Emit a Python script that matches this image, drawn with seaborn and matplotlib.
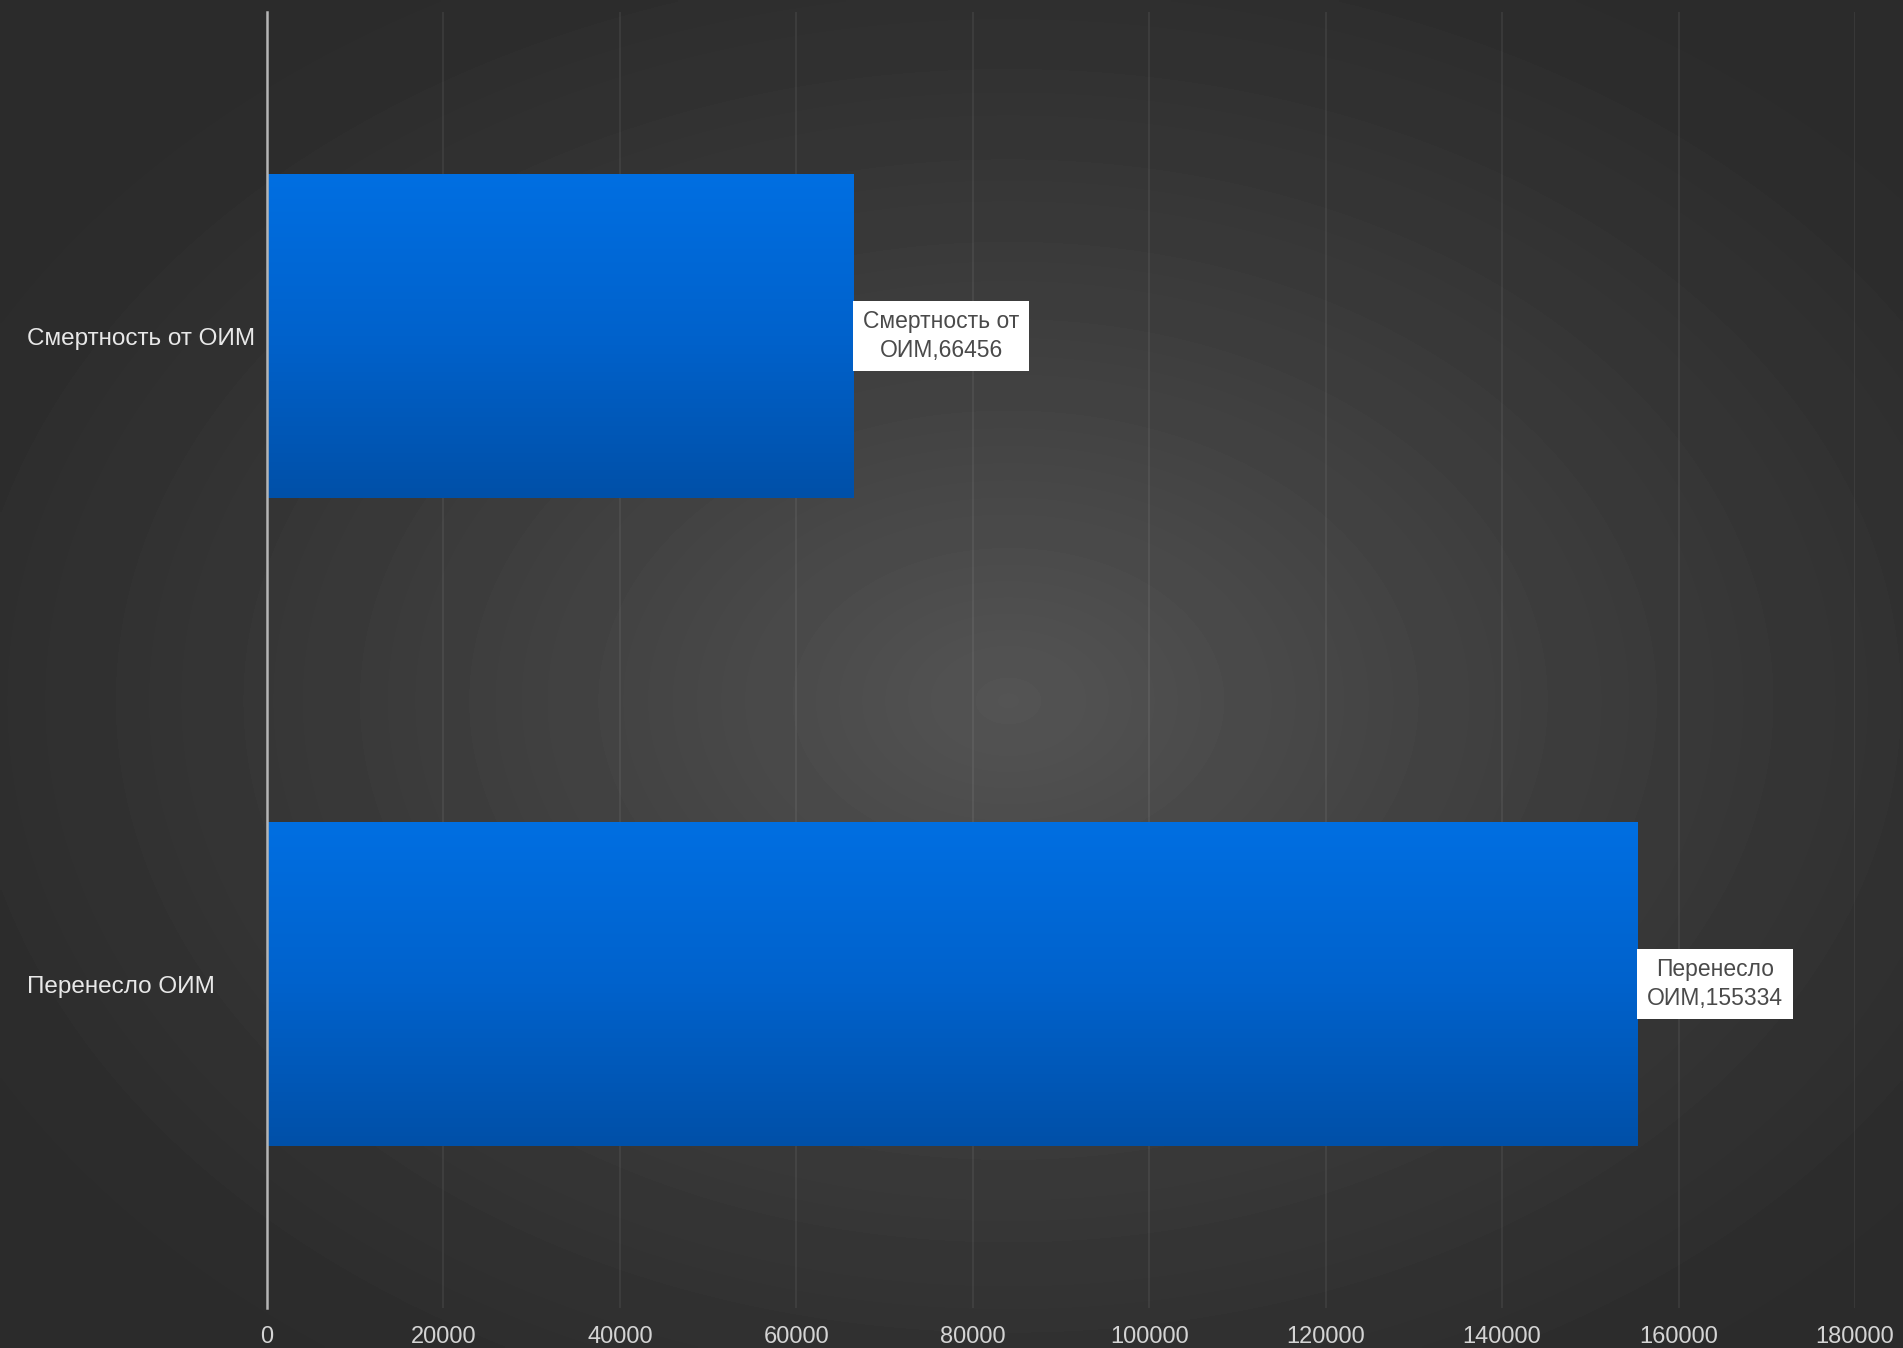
import textwrap
import numpy as np
import pandas as pd
import matplotlib
matplotlib.use("Agg")
import matplotlib.pyplot as plt
import seaborn as sns
from matplotlib.colors import LinearSegmentedColormap

# Data
categories = ["Смертность от ОИМ", "Перенесло ОИМ"]
values = [66456, 155334]
x_ticks = [0, 20000, 40000, 60000, 80000, 100000, 120000, 140000, 160000, 180000]

sns.set_theme(style="dark")
plt.rcParams["font.family"] = ["Liberation Sans", "DejaVu Sans"]

W, H = 1903, 1348
fig = plt.figure(figsize=(W / 100, H / 100), dpi=100)

# Radial dark-gray backdrop
bg = fig.add_axes([0, 0, 1, 1], zorder=0)
yy, xx = np.mgrid[0:1:400j, 0:1:560j]
r = np.sqrt(((xx - 0.53) / 0.62) ** 2 + ((yy - 0.52) / 0.62) ** 2)
shade = 0.17 + 0.16 * np.clip(1 - r, 0, 1) ** 1.3
bg.imshow(shade, cmap="gray", vmin=0, vmax=1, aspect="auto",
          extent=[0, 1, 0, 1], interpolation="bilinear")
bg.set_axis_off()

# Plot area
ax = fig.add_axes([267 / W, 1 - 1308 / H, (1855 - 267) / W, (1308 - 12) / H], zorder=1)
ax.set_facecolor("none")

df = pd.DataFrame({"category": categories, "value": values})
sns.barplot(data=df, x="value", y="category", order=categories, width=0.5,
            color="#0064d0", ax=ax, zorder=3)

# Vertical blue gradient inside each bar
grad_cmap = LinearSegmentedColormap.from_list("bar", ["#006fe2", "#0062cc", "#0050a8"])
grad = np.linspace(0, 1, 256).reshape(-1, 1)
for patch in list(ax.patches):
    x0, y0 = patch.get_x(), patch.get_y()
    w, h = patch.get_width(), patch.get_height()
    im = ax.imshow(grad, cmap=grad_cmap, aspect="auto", origin="upper",
                   extent=[x0, x0 + w, y0 + h, y0], zorder=3, interpolation="bilinear")
    im.set_clip_path(patch)
    patch.set_facecolor("none")
    patch.set_edgecolor("none")

ax.set_xlim(0, 180000)
ax.set_ylim(1.5, -0.5)
ax.set_aspect("auto")

# Value labels in white boxes
for i, (cat, val) in enumerate(zip(categories, values)):
    label = textwrap.fill(f"{cat},{val}", width=14)
    ax.annotate(label, xy=(val, i), xytext=(7, 0), textcoords="offset points",
                ha="left", va="center", ma="center", fontsize=16.5, color="#4a4a4a",
                linespacing=1.3, zorder=5,
                bbox=dict(boxstyle="square,pad=0.42", fc="white", ec="none"))

# Axes styling
ax.set_xticks(x_ticks)
ax.set_xticklabels([str(t) for t in x_ticks])
ax.set_xlabel("")
ax.set_ylabel("")
ax.grid(axis="x", color="white", alpha=0.075, lw=1.2)
ax.grid(axis="y", visible=False)
ax.set_axisbelow(True)
for side in ["top", "right", "bottom"]:
    ax.spines[side].set_visible(False)
ax.spines["left"].set_color("#b5b5b5")
ax.spines["left"].set_linewidth(1.8)
ax.spines["left"].set_zorder(4)

ax.tick_params(axis="x", length=0, pad=13, labelsize=17, labelcolor="#d4d4d4")
ax.tick_params(axis="y", length=0, pad=173, labelsize=17.5, labelcolor="#e8e8e8")
for t in ax.get_yticklabels():
    t.set_horizontalalignment("left")

fig.savefig("out.png", dpi=100)
